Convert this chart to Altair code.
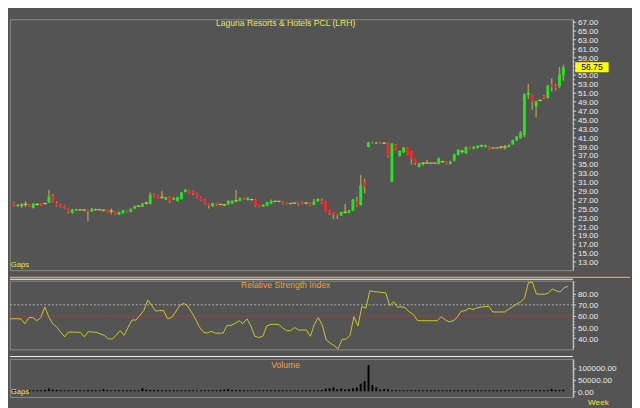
import altair as alt
import pandas as pd

title_text = "Laguna Resorts & Hotels PCL (LRH)"
last_price = 56.75

opens = [26.3, 25.5, 25.7, 25.9, 25.7, 25.1, 25.9, 26.1, 26.1, 26.3,
         27.8, 26.3, 26.0, 25.6, 24.9, 24.0, 24.5, 24.7, 24.6, 24.6,
         24.3, 24.7, 24.7, 24.6, 24.6, 24.4, 24.2, 23.6, 23.9, 24.5,
         24.2, 25.0, 25.5, 25.4, 26.2, 26.0, 28.2, 27.8, 27.5, 27.0,
         27.7, 27.0, 26.7, 27.1, 28.7, 29.0, 28.8, 28.4, 27.6, 26.9,
         26.0, 25.5, 26.0, 25.9, 25.8, 25.9, 26.1, 26.7, 26.7, 27.3,
         26.9, 27.0, 27.0, 25.8, 25.4, 25.6, 26.1, 26.6, 26.6, 26.5,
         26.3, 26.1, 26.2, 26.3, 26.5, 26.2, 26.3, 25.75, 26.6, 26.8,
         26.6, 24.5, 24.1, 23.7, 23.4, 24.1, 24.0, 24.5, 26.6, 25.75,
         30.9, 38.8, 39.9, 39.6, 39.9, 39.7, 39.6, 31.0, 39.3, 36.8,
         37.6, 38.6, 37.8, 36.1, 34.3, 35.2, 35.2, 35.2, 35.2, 35.0,
         35.5, 35.5, 35.0, 35.7, 37.0, 37.9, 37.4, 38.8, 38.4, 38.6,
         39.1, 38.8, 38.95, 38.6, 38.6, 38.8, 38.8, 38.8, 39.4, 40.3,
         40.8, 41.5, 50.5, 50.5, 47.9, 49.3, 50.3, 49.85, 52.9, 52.6,
         52.5, 54.95]
highs = [26.5, 26.0, 26.2, 26.6, 25.9, 26.2, 26.1, 26.2, 26.3, 29.2,
         28.2, 26.6, 26.1, 25.7, 25.0, 24.9, 24.9, 24.8, 24.8, 24.7,
         25.1, 24.9, 24.9, 24.7, 24.7, 24.9, 24.3, 24.3, 24.7, 24.6,
         25.0, 25.6, 25.7, 26.2, 26.5, 28.6, 28.4, 27.9, 28.9, 27.6,
         27.8, 27.5, 27.6, 28.7, 29.4, 29.1, 29.0, 28.5, 27.7, 27.0,
         26.1, 26.3, 26.1, 26.0, 26.0, 26.8, 26.8, 29.2, 27.5, 27.4,
         27.5, 27.2, 27.1, 25.9, 25.9, 26.5, 27.0, 26.8, 26.8, 26.6,
         26.4, 26.3, 26.3, 26.4, 26.6, 26.4, 26.4, 27.1, 27.3, 27.2,
         26.7, 24.6, 24.2, 23.8, 24.3, 26.0, 24.7, 27.1, 27.6, 32.5,
         31.7, 40.0, 40.0, 40.0, 40.0, 39.8, 39.8, 39.7, 39.5, 38.0,
         38.8, 38.7, 37.9, 36.2, 35.3, 35.4, 35.9, 35.3, 35.3, 36.4,
         35.7, 35.6, 35.7, 37.3, 38.3, 38.2, 38.9, 38.9, 39.0, 39.2,
         39.4, 39.3, 39.0, 38.7, 38.7, 39.0, 39.3, 39.4, 40.5, 41.3,
         42.4, 50.9, 53.0, 50.6, 49.2, 49.5, 50.5, 52.8, 54.3, 53.0,
         56.8, 57.3]
lows = [25.4, 25.3, 25.1, 25.4, 25.3, 25.0, 25.6, 25.6, 25.9, 26.2,
        26.2, 25.4, 25.2, 24.8, 23.9, 23.8, 24.4, 24.5, 24.5, 22.1,
        24.2, 24.5, 24.5, 24.3, 24.0, 23.7, 23.6, 23.5, 23.8, 24.1,
        24.1, 24.9, 25.3, 25.3, 25.9, 25.9, 27.5, 27.1, 27.1, 26.9,
        26.2, 26.9, 26.5, 27.0, 28.6, 28.3, 28.0, 27.3, 26.7, 25.9,
        25.0, 25.4, 25.6, 25.7, 25.6, 25.8, 26.0, 26.5, 26.6, 26.9,
        26.8, 26.6, 25.4, 25.3, 25.3, 25.5, 26.0, 26.4, 26.4, 25.9,
        25.9, 25.9, 26.0, 25.6, 25.9, 26.0, 25.5, 25.7, 26.5, 26.0,
        24.3, 23.6, 22.6, 22.6, 23.3, 23.9, 23.9, 24.4, 25.3, 25.6,
        28.4, 38.7, 39.5, 39.5, 39.5, 39.5, 36.5, 30.9, 38.0, 36.7,
        37.5, 37.0, 34.9, 34.8, 34.2, 34.6, 35.1, 35.1, 35.1, 34.9,
        35.3, 34.9, 34.9, 35.6, 36.9, 37.3, 37.3, 38.3, 38.3, 38.5,
        38.7, 38.7, 38.2, 38.4, 38.5, 38.4, 38.2, 38.7, 39.3, 40.2,
        40.7, 41.0, 49.6, 47.2, 45.5, 49.1, 49.6, 49.7, 51.3, 51.6,
        52.05, 53.7]
closes = [25.6, 25.9, 25.7, 25.9, 25.4, 26.1, 25.9, 25.7, 26.1, 27.7,
          26.3, 25.6, 25.3, 24.9, 24.2, 24.8, 24.8, 24.7, 24.6, 24.3,
          24.9, 24.7, 24.7, 24.6, 24.1, 24.4, 23.7, 24.2, 24.6, 24.2,
          24.9, 25.5, 25.5, 26.1, 26.2, 28.1, 27.6, 27.2, 27.5, 27.5,
          26.6, 27.4, 27.5, 28.6, 29.2, 28.4, 28.3, 27.4, 26.8, 26.0,
          25.6, 26.2, 25.8, 25.9, 25.8, 26.7, 26.7, 26.7, 27.3, 27.0,
          27.4, 27.0, 25.6, 25.4, 25.8, 26.4, 26.6, 26.6, 26.6, 26.1,
          26.0, 26.1, 26.2, 25.9, 26.0, 26.2, 25.6, 26.6, 27.1, 26.2,
          24.4, 23.95, 23.7, 23.4, 24.2, 24.1, 24.6, 27.0, 25.6, 30.2,
          29.8, 39.9, 39.6, 39.9, 39.6, 39.7, 36.8, 39.6, 38.1, 37.9,
          38.7, 37.1, 36.1, 35.2, 35.2, 35.2, 35.2, 35.2, 35.2, 36.3,
          35.5, 35.0, 35.6, 37.2, 38.2, 37.9, 38.8, 38.4, 38.9, 39.1,
          39.1, 39.2, 38.4, 38.6, 38.6, 38.8, 38.8, 39.3, 40.4, 41.2,
          42.0, 50.7, 51.1, 49.0, 49.1, 49.3, 49.85, 52.6, 52.5, 52.05,
          55.1, 56.75]
rsi = [57.5, 57.5, 57.5, 57.5, 53.1, 58.6, 58.6, 55.8, 58.6, 68.1,
       59.4, 53.1, 50.3, 45.6, 41.4, 45.6, 45.6, 45.6, 45.3, 41.4,
       46.1, 45.6, 45.6, 44.0, 42.8, 39.7, 39.4, 42.8, 46.9, 42.8,
       49.7, 56.4, 56.4, 60.5, 65.0, 74.2, 69.2, 64.2, 65.0, 64.7,
       57.5, 58.6, 63.6, 69.2, 71.4, 69.2, 63.6, 57.5, 50.3, 45.6,
       44.7, 46.4, 44.7, 44.7, 44.7, 51.7, 51.7, 53.3, 55.8, 53.3,
       57.5, 51.1, 41.9, 40.8, 41.9, 51.1, 52.5, 52.5, 52.5, 49.5,
       46.9, 46.9, 49.7, 47.5, 47.5, 47.5, 41.9, 52.5, 58.6, 51.9,
       38.6, 35.8, 33.6, 30.8, 39.2, 39.2, 42.8, 59.4, 51.1, 68.6,
       66.9, 82.5, 81.7, 81.5, 81.0, 80.8, 69.2, 72.8, 67.8, 68.3,
       67.2, 63.5, 61.4, 55.8, 55.8, 55.8, 55.8, 55.8, 55.8, 59.4,
       56.7, 54.7, 55.8, 58.6, 64.2, 64.7, 66.9, 65.8, 67.2, 68.0,
       68.3, 68.6, 63.6, 63.6, 63.6, 63.6, 66.0, 68.3, 70.6, 72.5,
       75.8, 90.0, 90.0, 79.7, 79.5, 79.4, 80.3, 84.2, 82.5, 81.4,
       85.3, 86.4]
volume = [5000, 4000, 4500, 4000, 5500, 4000, 4500, 4000, 5000, 12000,
          7000, 5000, 4500, 4000, 4000, 4500, 4000, 4000, 3500, 5000,
          4000, 4500, 4000, 10000, 5000, 4500, 4000, 4000, 4500, 4000,
          4000, 4500, 4000, 13000, 7000, 6000, 5000, 4500, 4000, 4000,
          4500, 4000, 4000, 4000, 4500, 4000, 4000, 3500, 4000, 4000,
          4500, 4000, 4000, 5000, 8000, 8500, 5000, 4500, 4000, 4000,
          4000, 4500, 4000, 4000, 4500, 4000, 4000, 4000, 4500, 4000,
          4000, 4000, 4500, 4000, 4000, 4500, 4000, 4000, 4500, 5000,
          11000, 13000, 16000, 9000, 12000, 8000, 10000, 13000, 16000, 32000,
          43000, 113000, 27000, 16000, 8000, 10000, 9000, 4500, 4000, 4000,
          4000, 4500, 4000, 4000, 4500, 4000, 4000, 4000, 4500, 4000,
          4000, 4000, 4500, 4000, 4000, 4500, 4000, 4000, 4500, 4000,
          4000, 4000, 4500, 4000, 4000, 4500, 4000, 4000, 4500, 4000,
          4000, 4500, 4000, 4000, 4500, 4000, 4000, 4500, 10000, 6000,
          6000, 7000]

# 57.00 sits under the last-price box in the reference, so it is not labelled
price_labels = [v for v in (13 + 2 * k for k in range(28)) if v != 57]
price_minor = [12 + 1 * k for k in range(56)]
rsi_labels = [40, 50, 60, 70, 80]
rsi_minor = [32.5 + 2.5 * k for k in range(24)]
vol_labels = [0, 50000, 100000]
vol_minor = [-20000 + 10000 * k for k in range(16)]

n = len(closes)
df = pd.DataFrame({"i": list(range(n)), "open": opens, "high": highs,
                   "low": lows, "close": closes, "rsi": rsi, "volume": volume})
df["dir"] = ["up" if c > o else ("down" if c < o else "flat") for o, c in zip(opens, closes)]

BG = "#545454"
AX = "#c8c8c8"
LBL = "#ececec"
YEL = "#e8e84a"
ORA = "#f0a030"
FONT = "Liberation Sans"
W = 590
H1, H2, H3 = 263, 72, 40

xenc = alt.X("i:Q", scale=alt.Scale(domain=[0.216, 142.2], nice=False, zero=False), axis=None)


def make_axis(values):
    return alt.Axis(orient="right", values=values, grid=False, domainColor=AX, tickColor=AX,
                    tickSize=3, labelColor=LBL, labelFont=FONT, labelFontSize=8.5,
                    labelPadding=2, labelOverlap=False, title=None, format=".2f")


def minor_ticks(vals, scale, axis):
    return alt.Chart(pd.DataFrame({"v": vals})).mark_rule(color=AX, strokeWidth=1).encode(
        x=alt.value(W), x2=alt.value(W + 2),
        y=alt.Y("v:Q", scale=scale, axis=axis))


base = alt.Chart(df)

# ---- price panel
pscale = alt.Scale(domain=[11.1, 67.55], nice=False, zero=False)
paxis = make_axis(price_labels)
wicks = base.mark_rule(color="#a89c4c", strokeWidth=1.5, clip=True).encode(
    x=xenc, y=alt.Y("low:Q", scale=pscale, axis=paxis), y2="high:Q")
bodies = base.transform_filter("datum.dir != 'flat'").mark_bar(size=3, clip=True).encode(
    x=xenc, y=alt.Y("open:Q", scale=pscale, axis=paxis), y2="close:Q",
    color=alt.Color("dir:N", scale=alt.Scale(domain=["up", "down"], range=["#1ee81e", "#f02a2a"]), legend=None))
doji = base.transform_filter("datum.dir == 'flat'").mark_tick(
    orient="horizontal", size=4, thickness=1.2, color="#e6e62a", clip=True).encode(
    x=xenc, y=alt.Y("close:Q", scale=pscale, axis=paxis))
pminor = minor_ticks(price_minor, pscale, paxis)

ptitle = alt.Chart(pd.DataFrame({"t": [title_text]})).mark_text(
    color=YEL, font=FONT, fontSize=9, baseline="top").encode(
    text="t:N", x=alt.value(289), y=alt.value(0))
pgaps = alt.Chart(pd.DataFrame({"t": ["Gaps"]})).mark_text(
    color=YEL, font=FONT, fontSize=8, align="left", baseline="bottom").encode(
    text="t:N", x=alt.value(1), y=alt.value(H1 - 1))
ldf = pd.DataFrame({"p": [last_price], "t": [f"{last_price:.2f}"]})
lbox = alt.Chart(ldf).mark_point(shape="M-1,-0.3L1,-0.3L1,0.3L-1,0.3Z", size=1225, filled=True,
                                 opacity=1, color="#ffff00").encode(
    x=alt.value(W + 20), y=alt.Y("p:Q", scale=pscale, axis=paxis))
ltext = alt.Chart(ldf).mark_text(color="#000000", font=FONT, fontSize=9, baseline="middle").encode(
    x=alt.value(W + 20), y=alt.Y("p:Q", scale=pscale, axis=paxis), text="t:N")

price = alt.layer(wicks, bodies, doji, pminor, ptitle, pgaps, lbox, ltext).properties(width=W, height=H1)

# ---- RSI panel
rscale = alt.Scale(domain=[30.2, 91.5], nice=False, zero=False)
raxis = make_axis(rsi_labels)
rline = base.mark_line(color="#d6cc1e", strokeWidth=1, clip=True).encode(
    x=xenc, y=alt.Y("rsi:Q", scale=rscale, axis=raxis))
r70 = alt.Chart(pd.DataFrame({"v": [70]})).mark_rule(color="#b4b4b4", strokeDash=[2, 2], strokeWidth=1).encode(
    y=alt.Y("v:Q", scale=rscale, axis=raxis))
r60 = alt.Chart(pd.DataFrame({"v": [60]})).mark_rule(color="#b83a3a", strokeDash=[2, 1], strokeWidth=1).encode(
    y=alt.Y("v:Q", scale=rscale, axis=raxis))
rminor = minor_ticks(rsi_minor, rscale, raxis)
rtitle = alt.Chart(pd.DataFrame({"t": ["Relative Strength Index"]})).mark_text(
    color=ORA, font=FONT, fontSize=9, baseline="top").encode(text="t:N", x=alt.value(289), y=alt.value(1))
sep_o = alt.Chart(pd.DataFrame({"t": [0]})).mark_rule(color=ORA, strokeWidth=1.5).encode(
    x=alt.value(0), x2=alt.value(W + 60), y=alt.value(-3.5))
sep_w = alt.Chart(pd.DataFrame({"t": [0]})).mark_rule(color="#ffffff", strokeWidth=1).encode(
    x=alt.value(0), x2=alt.value(W), y=alt.value(-1.5))
rsi_chart = alt.layer(r70, r60, rline, rminor, rtitle, sep_o, sep_w).properties(width=W, height=H2)

# ---- volume panel
vscale = alt.Scale(domain=[-25000, 139000], nice=False, zero=False)
vaxis = make_axis(vol_labels)
vbars = base.mark_bar(size=2, color="#000000", clip=True).encode(
    x=xenc, y=alt.Y("volume:Q", scale=vscale, axis=vaxis), y2=alt.datum(0))
vminor = minor_ticks(vol_minor, vscale, vaxis)
vtitle = alt.Chart(pd.DataFrame({"t": ["Volume"]})).mark_text(
    color=ORA, font=FONT, fontSize=9, baseline="top").encode(text="t:N", x=alt.value(289), y=alt.value(2))
vgaps = alt.Chart(pd.DataFrame({"t": ["Gaps"]})).mark_text(
    color=YEL, font=FONT, fontSize=8, align="left", baseline="bottom").encode(
    text="t:N", x=alt.value(1), y=alt.value(H3 - 1))
week = alt.Chart(pd.DataFrame({"t": ["Week"]})).mark_text(
    color=YEL, font=FONT, fontSize=8.5, align="left", baseline="top").encode(
    text="t:N", x=alt.value(W + 16), y=alt.value(H3 + 1))
sep_w2 = alt.Chart(pd.DataFrame({"t": [0]})).mark_rule(color="#ffffff", strokeWidth=1).encode(
    x=alt.value(0), x2=alt.value(W), y=alt.value(-2.5))
vol_chart = alt.layer(vbars, vminor, vtitle, vgaps, week, sep_w2).properties(width=W, height=H3)

chart = alt.vconcat(price, rsi_chart, vol_chart, spacing=5).properties(
    padding={"left": 0, "top": 0, "right": 0, "bottom": 0}
).configure(background=BG).configure_view(fill=BG, stroke="#8c8c8c", strokeWidth=1)

chart.save("out.html", embed_options={"renderer": "svg", "actions": False})
